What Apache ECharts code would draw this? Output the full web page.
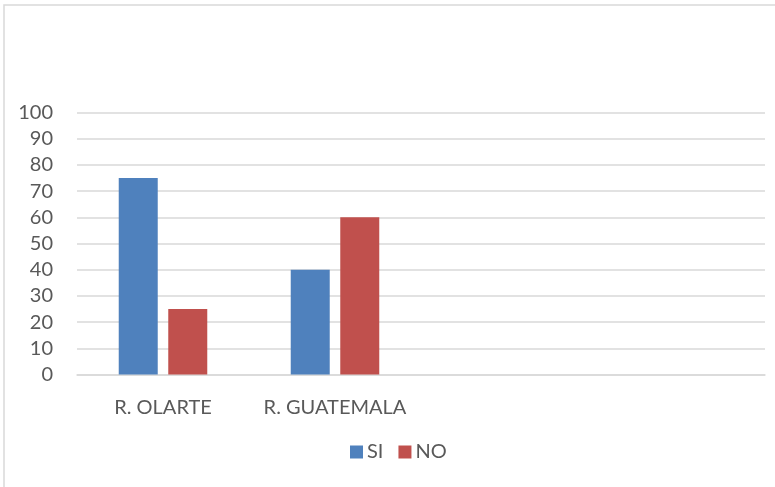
<!DOCTYPE html>
<html>
<head>
<meta charset="utf-8">
<script src="https://cdn.jsdelivr.net/npm/echarts@6/dist/echarts.min.js"></script>
<style>
html,body{margin:0;padding:0;background:#fff;}
#c{width:775px;height:487px;}
</style>
</head>
<body>
<div id="c"></div>
<script>
const categories = ['R. OLARTE', 'R. GUATEMALA', '', ''];
const siValues = [75, 40, null, null];
const noValues = [25, 60, null, null];
const yTicks = { min: 0, max: 100, interval: 10 };

const chart = echarts.init(document.getElementById('c'), null, { renderer: 'canvas' });
const font = "Lato, 'Noto Sans', sans-serif";
chart.setOption({
  animation: false,
  backgroundColor: '#ffffff',
  graphic: [{
    type: 'rect',
    shape: { x: 4, y: 5, width: 800, height: 520 },
    style: { fill: 'none', stroke: '#d9d9d9', lineWidth: 1.5 },
    silent: true, z: -1
  }],
  grid: { left: 77, right: 10, top: 112.5, bottom: 112.5, containLabel: false },
  legend: {
    data: ['SI', 'NO'],
    bottom: 20,
    left: 345,
    itemWidth: 13,
    itemHeight: 13,
    itemGap: 15,
    icon: 'rect',
    textStyle: { color: '#595959', fontSize: 20, fontFamily: font, padding: [0, 0, 0, -1] }
  },
  xAxis: {
    type: 'category',
    data: categories,
    axisLine: { show: true, lineStyle: { color: '#d9d9d9', width: 1.5 } },
    axisTick: { show: false },
    axisLabel: { color: '#595959', fontSize: 20, fontFamily: font, margin: 23, interval: 0 }
  },
  yAxis: {
    type: 'value',
    min: yTicks.min, max: yTicks.max, interval: yTicks.interval,
    axisLine: { show: false },
    axisTick: { show: false },
    splitLine: { lineStyle: { color: '#d9d9d9', width: 1.5 } },
    axisLabel: { color: '#595959', fontSize: 20, fontFamily: font, margin: 24 }
  },
  series: [
    { name: 'SI', type: 'bar', data: siValues, barWidth: 39, barGap: '27%', itemStyle: { color: '#4F81BD' } },
    { name: 'NO', type: 'bar', data: noValues, barWidth: 39, barGap: '27%', itemStyle: { color: '#C0504D' } }
  ]
});
</script>
</body>
</html>
